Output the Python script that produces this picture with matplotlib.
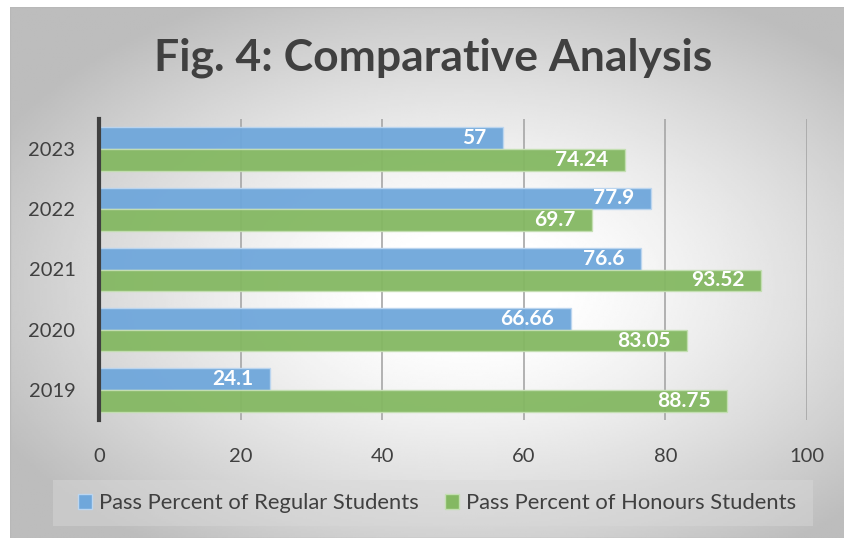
import matplotlib
import matplotlib.pyplot as plt
import numpy as np
from matplotlib.patches import Patch, Rectangle

matplotlib.use("Agg")

# data
years = ["2019", "2020", "2021", "2022", "2023"]
regular = [24.1, 66.66, 76.6, 77.9, 57]
honours = [88.75, 83.05, 93.52, 69.7, 74.24]
series_names = ["Pass Percent of Regular Students", "Pass Percent of Honours Students"]
x_ticks = [0, 20, 40, 60, 80, 100]

blue = "#6fa7db"
green = "#84b862"
text_color = "#404040"

plt.rcParams["font.family"] = ["Lato", "DejaVu Sans"]

W, H = 845, 538
fig = plt.figure(figsize=(W / 100, H / 100), dpi=100)
fig.patch.set_facecolor("white")

# background panel with radial gradient
bg = fig.add_axes([10 / W, 0, (W - 10) / W, (H - 7) / H])
bg.set_axis_off()
gx = np.linspace(-1, 1, 400)
gy = np.linspace(-1, 1, 260)
X, Y = np.meshgrid(gx, gy)
R = np.sqrt(((X - 0.1) / 1.1) ** 2 + ((Y - 0.05) / 1.05) ** 2) / np.sqrt(2)
val = 1 - 0.26 * np.clip((R - 0.12) / 0.7, 0, 1) ** 1.3
bg.imshow(val, cmap="gray", vmin=0, vmax=1, aspect="auto",
          extent=[0, 1, 0, 1], interpolation="bilinear")
bg.add_patch(Rectangle((0, 0), 1, 1, transform=bg.transAxes, fill=False,
                       edgecolor="#b8b8b8", lw=1.0))
bg.set_xlim(0, 1)
bg.set_ylim(0, 1)

# main axes
ax = fig.add_axes([99 / W, 1 - 420 / H, 708 / W, 301 / H])
ax.patch.set_alpha(0)

pos = np.arange(len(years))
h = 0.36
b1 = ax.barh(pos + h / 2, regular, height=h, color=blue, alpha=0.95,
             edgecolor="#bcd6f0", linewidth=1, zorder=2)
b2 = ax.barh(pos - h / 2, honours, height=h, color=green, alpha=0.95,
             edgecolor="#c4dfb2", linewidth=1, zorder=2)

for bars, vals in ((b1, regular), (b2, honours)):
    for bar, v in zip(bars, vals):
        ax.annotate(f"{v:g}", xy=(v, bar.get_y() + bar.get_height() / 2),
                    xytext=(-12, 0), textcoords="offset points",
                    ha="right", va="center", color="white",
                    fontsize=15, fontweight="bold", zorder=3)

ax.set_xlim(0, 100)
ax.set_ylim(-0.5, len(years) - 0.5)
ax.set_xticks(x_ticks)
ax.set_yticks(pos)
ax.set_yticklabels(years)
ax.tick_params(axis="both", length=0, labelsize=14.5, colors=text_color)
ax.tick_params(axis="x", pad=20)
ax.tick_params(axis="y", pad=17)
ax.xaxis.grid(True, color="#a6a6a6", lw=1.2, zorder=1)
ax.set_axisbelow(True)
for s in ["top", "right", "bottom"]:
    ax.spines[s].set_visible(False)
ax.spines["left"].set_color("#404040")
ax.spines["left"].set_linewidth(3)
ax.spines["left"].set_zorder(4)

fig.text(433 / W, 1 - 58 / H, "Fig. 4: Comparative Analysis", ha="center",
         va="center", fontsize=32, fontweight="bold", color=text_color)

# legend
fig.patches.append(Rectangle((53 / W, 1 - 526 / H), 760 / W, 46 / H,
                             transform=fig.transFigure, facecolor="#d9d9d9",
                             alpha=0.45, edgecolor="none", zorder=1))
handles = [Patch(facecolor=blue, edgecolor="#bcd6f0"),
           Patch(facecolor=green, edgecolor="#c4dfb2")]
fig.legend(handles, series_names, loc="center", ncol=2,
           bbox_to_anchor=(437 / W, 1 - 503 / H), frameon=False,
           fontsize=15.8, labelcolor=text_color, handlelength=0.65,
           handleheight=0.65, handletextpad=0.32, columnspacing=1.2)

fig.savefig("out.png", dpi=100)
